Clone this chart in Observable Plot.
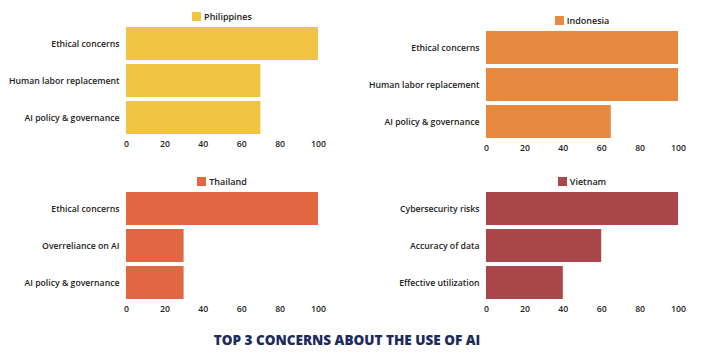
<!DOCTYPE html>
<html>
<head>
<meta charset="utf-8">
<script src="https://cdn.jsdelivr.net/npm/d3@7"></script>
<script src="https://cdn.jsdelivr.net/npm/@observablehq/plot@0.6"></script>
<style>
  html, body { margin: 0; padding: 0; background: #fff; }
  #root { position: relative; width: 720px; height: 354px; background: #fff; overflow: hidden; }
  .panel { position: absolute; width: 340px; height: 159px; }
  .panel > svg { position: absolute; left: 0; top: 0; }
  .lgwrap { position: absolute; left: 126px; width: 192px; height: 12px; text-align: center; line-height: 12px; }
  .lgwrap > div { display: inline-flex !important; width: auto !important; min-height: 0 !important; margin: 0 !important; align-items: center; font-family: "Open Sans", sans-serif !important; font-size: 9px !important; font-weight: 600; color: #222; }
  .lgwrap span { display: inline-flex !important; align-items: center; margin: 0 !important; white-space: nowrap; }
  .lgwrap svg { margin-right: 3px !important; flex: none; }
  #title { position: absolute; left: -13px; width: 720px; top: 331px; text-align: center; font-family: "Open Sans", sans-serif; font-weight: 800; font-size: 13.5px; color: #1c2b5c; }
</style>
</head>
<body>
<div id="root"></div>
<script>
const countries = ["Philippines", "Indonesia", "Thailand", "Vietnam"];
const countryColors = ["#F1C443", "#E78A3F", "#E16742", "#A9474A"];

const philippinesConcerns = ["Ethical concerns", "Human labor replacement", "AI policy & governance"];
const philippinesValues = [100, 70, 70];

const indonesiaConcerns = ["Ethical concerns", "Human labor replacement", "AI policy & governance"];
const indonesiaValues = [100, 100, 65];

const thailandConcerns = ["Ethical concerns", "Overreliance on AI", "AI policy & governance"];
const thailandValues = [100, 30, 30];

const vietnamConcerns = ["Cybersecurity risks", "Accuracy of data", "Effective utilization"];
const vietnamValues = [100, 60, 40];

const xTicks = [0, 20, 40, 60, 80, 100];
const chartTitle = "TOP 3 CONCERNS ABOUT THE USE OF AI";

const root = document.getElementById("root");

function makePanel(country, color, concerns, values, left, top) {
  const data = concerns.map((c, i) => ({concern: c, value: values[i], country}));
  const chart = Plot.plot({
    width: 340,
    height: 159,
    marginLeft: 126,
    marginRight: 22,
    marginTop: 23,
    marginBottom: 20,
    style: {fontFamily: "Open Sans, sans-serif", fontSize: "8.7px", fontWeight: "600", color: "#222", background: "transparent"},
    x: {domain: [0, 100], ticks: xTicks, tickSize: 0, tickPadding: 1, label: null},
    y: {domain: concerns, tickSize: 0, tickPadding: 7, label: null, padding: 0.1},
    color: {domain: [country], range: [color]},
    marks: [
      Plot.barX(data, {x: "value", y: "concern", fill: "country"})
    ]
  });
  const div = document.createElement("div");
  div.className = "panel";
  div.style.left = left + "px";
  div.style.top = top + "px";
  div.appendChild(chart);
  const lg = document.createElement("div");
  lg.className = "lgwrap";
  lg.style.top = "10px";
  lg.appendChild(Plot.legend({color: {domain: [country], range: [color]}, swatchSize: 9, className: "lg"}));
  div.appendChild(lg);
  root.appendChild(div);
}

makePanel(countries[0], countryColors[0], philippinesConcerns, philippinesValues, 0, 0);
makePanel(countries[1], countryColors[1], indonesiaConcerns, indonesiaValues, 360, 4);
makePanel(countries[2], countryColors[2], thailandConcerns, thailandValues, 0, 165);
makePanel(countries[3], countryColors[3], vietnamConcerns, vietnamValues, 360, 165);

const t = document.createElement("div");
t.id = "title";
t.textContent = chartTitle;
root.appendChild(t);
</script>
</body>
</html>
